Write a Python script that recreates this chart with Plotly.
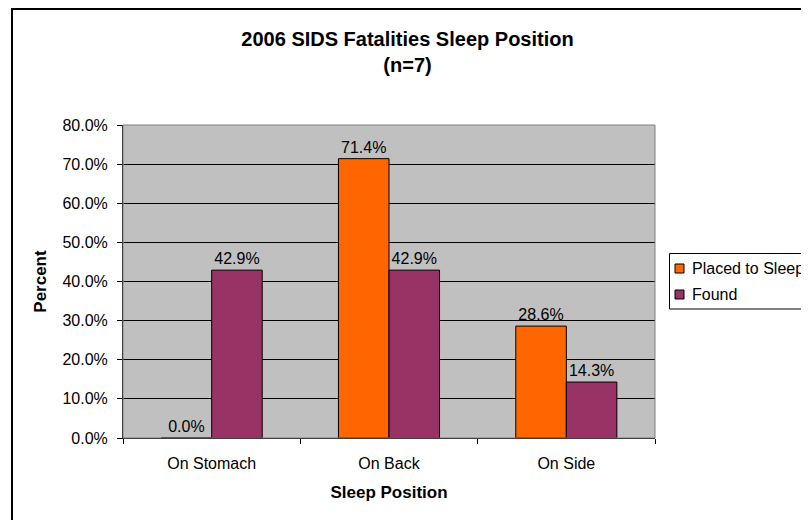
import plotly.graph_objects as go

categories = ["On Stomach", "On Back", "On Side"]
series_names = ["Placed to Sleep", "Found"]
placed_to_sleep = [0.0, 71.4, 28.6]
found = [42.9, 42.9, 14.3]
series_colors = ["#FF6600", "#993366"]
y_ticks = [0, 10, 20, 30, 40, 50, 60, 70, 80]
y_tick_labels = [f"{v:.1f}%" for v in y_ticks]

FONT = "Liberation Sans, Arial, sans-serif"

# figure is offset by the 8px default body margin of the page;
# it overflows the window on the right/bottom like the original chart
OFF = 8
W, H = 809, 520
# plot area in page pixels
PL, PR, PT, PB = 123, 655, 125, 438
L, R, T, B = PL - OFF, W - (PR - OFF), PT - OFF, H - (PB - OFF)
pw, ph = W - L - R, H - T - B


def px_x(p):  # page px -> paper
    return (p - OFF - L) / pw


def px_y(p):
    return (H - B - (p - OFF)) / ph


fig = go.Figure()
for name, vals, col in zip(series_names, [placed_to_sleep, found], series_colors):
    fig.add_trace(go.Bar(
        name=name, x=categories, y=vals,
        marker=dict(color=col, line=dict(color="black", width=1)),
        text=[f"{v:.1f}%" for v in vals], textposition="outside",
        textfont=dict(size=16, color="black", family=FONT), cliponaxis=False,
        showlegend=False,
    ))

fig.update_layout(
    width=W, height=H,
    margin=dict(l=L, r=R, t=T, b=B, pad=0, autoexpand=False),
    paper_bgcolor="white", plot_bgcolor="#C0C0C0",
    font=dict(family=FONT, size=16, color="black"),
    barmode="group", bargap=0.43, bargroupgap=0,
    title=dict(text="<b>2006 SIDS Fatalities Sleep Position<br>(n=7)</b>",
               x=px_x(407.5) * pw / W + L / W, xanchor="center", xref="container",
               y=1 - 37.5 / H, yanchor="top", yref="container",
               font=dict(size=20, family=FONT, color="black")),
    xaxis=dict(title=dict(text="<b>Sleep Position</b>", font=dict(size=17), standoff=14),
               showline=True, linecolor="black", linewidth=1,
               ticks="outside", ticklen=5, tickcolor="black", tickson="boundaries",
               ticklabelstandoff=11, automargin=False,
               tickfont=dict(size=16), showgrid=False),
    yaxis=dict(title=dict(text="<b>Percent</b>", font=dict(size=17), standoff=11),
               range=[0, 80], tickvals=y_ticks, ticktext=y_tick_labels,
               showline=True, linecolor="black", linewidth=1,
               ticks="outside", ticklen=5, tickcolor="black",
               ticklabelstandoff=6, automargin=False,
               showgrid=True, gridcolor="black", gridwidth=1,
               tickfont=dict(size=16), zeroline=False),
    showlegend=False,
)

# plot-area border (grey)
fig.add_shape(type="rect", xref="paper", yref="paper", x0=0, y0=0, x1=1, y1=1,
              line=dict(color="#808080", width=1), layer="above")
# outer chart border (extends past the window on right and bottom)
fig.add_shape(type="rect", xref="paper", yref="paper",
              x0=px_x(12), y0=px_y(580), x1=px_x(900), y1=px_y(9),
              line=dict(color="black", width=2), layer="above")

# legend box, drawn to match the original chart's legend
fig.add_shape(type="rect", xref="paper", yref="paper",
              x0=px_x(669.5), y0=px_y(309), x1=px_x(900), y1=px_y(253.5),
              line=dict(color="black", width=1), fillcolor="white", layer="above")
legend_rows = [268.5, 294.5]
for name, col, yc in zip(series_names, series_colors, legend_rows):
    fig.add_shape(type="rect", xref="paper", yref="paper",
                  x0=px_x(675), y0=px_y(yc + 4.5), x1=px_x(684), y1=px_y(yc - 4.5),
                  line=dict(color="black", width=1), fillcolor=col, layer="above")
    fig.add_annotation(text=name, xref="paper", yref="paper",
                       x=px_x(690), y=px_y(yc), xanchor="left", yanchor="middle",
                       showarrow=False, font=dict(size=16, family=FONT, color="black"))

fig.write_html("out.html")
